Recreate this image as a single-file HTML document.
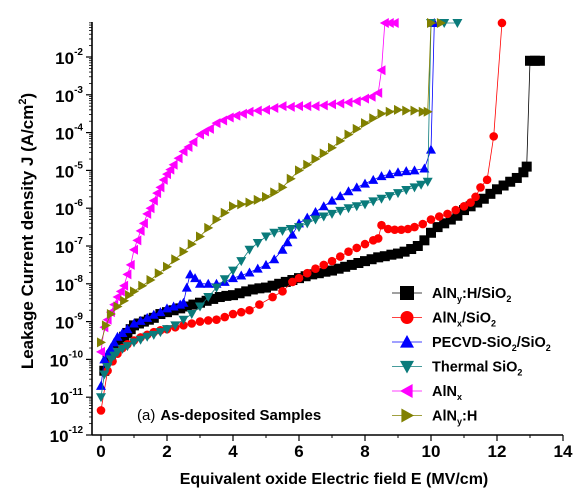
<!DOCTYPE html>
<html><head><meta charset="utf-8"><style>
body{margin:0;background:#fff;}
svg{display:block;font-family:"Liberation Sans",Arial,sans-serif;}
</style></head><body>
<svg id="chart" width="581" height="491" viewBox="0 0 581 491" xmlns="http://www.w3.org/2000/svg">
<g id="plot"></g>
<g id="axes"></g>
<text transform="translate(33,231) rotate(-90)" text-anchor="middle" font-size="17" font-weight="bold">Leakage Current density J (A/cm<tspan font-size="11" dy="-7">2</tspan><tspan dy="7">)</tspan></text>
<text x="334" y="484" text-anchor="middle" font-size="16" font-weight="bold">Equivalent oxide Electric field E (MV/cm)</text>
<text x="137" y="420" font-size="15"><tspan>(a)</tspan><tspan font-weight="bold" dx="5">As-deposited Samples</tspan></text>
<g id="legend"></g>
</svg>
<script>
const xTicks=[0,2,4,6,8,10,12,14];
const yTickExps=[-12,-11,-10,-9,-8,-7,-6,-5,-4,-3,-2];
const seriesNames=["AlNy:H/SiO2","AlNx/SiO2","PECVD-SiO2/SiO2","Thermal SiO2","AlNx","AlNy:H"];
const blackX=[0.1,0.2,0.3,0.4,0.5,0.6,0.7,0.8,0.9,1,1.15,1.3,1.45,1.6,1.8,2,2.2,2.4,2.6,2.8,3,3.2,3.4,3.6,3.8,4,4.2,4.4,4.6,4.8,5,5.2,5.4,5.6,5.8,6,6.2,6.4,6.6,6.8,7,7.2,7.4,7.6,7.8,8,8.2,8.4,8.6,8.8,9,9.2,9.4,9.6,9.8,10,10.2,10.4,10.6,10.8,11,11.2,11.4,11.6,11.8,12,12.2,12.4,12.6,12.8,12.9,13,13.15,13.3];
const blackY=[-10.3,-10,-9.9,-9.8,-9.65,-9.5,-9.4,-9.3,-9.2,-9.1,-9.05,-9,-8.95,-8.9,-8.8,-8.75,-8.7,-8.65,-8.6,-8.55,-8.5,-8.45,-8.4,-8.35,-8.32,-8.3,-8.25,-8.2,-8.15,-8.12,-8.1,-8.05,-8,-7.95,-7.9,-7.85,-7.8,-7.75,-7.72,-7.68,-7.65,-7.6,-7.55,-7.5,-7.45,-7.4,-7.35,-7.3,-7.27,-7.23,-7.2,-7.15,-7.08,-7,-6.85,-6.65,-6.5,-6.4,-6.3,-6.2,-6.05,-5.95,-5.85,-5.75,-5.62,-5.5,-5.4,-5.3,-5.2,-5.05,-4.9,-2.1,-2.1,-2.1];
const redX=[0,0.2,0.35,0.5,0.65,0.8,1,1.2,1.4,1.6,1.8,2,2.25,2.5,2.75,3,3.25,3.5,3.75,4,4.25,4.5,4.8,5.2,5.5,5.8,6,6.25,6.5,6.75,7,7.25,7.5,7.75,8,8.25,8.4,8.5,8.7,8.9,9.1,9.3,9.5,9.75,10,10.25,10.5,10.75,11,11.2,11.35,11.5,11.7,11.9,12.15];
const redY=[-11.35,-10.3,-10.05,-9.85,-9.7,-9.6,-9.5,-9.42,-9.35,-9.28,-9.23,-9.2,-9.15,-9.1,-9.05,-9,-8.97,-8.95,-8.88,-8.8,-8.75,-8.7,-8.55,-8.35,-8.2,-7.95,-7.85,-7.72,-7.6,-7.5,-7.4,-7.28,-7.15,-7.05,-6.95,-6.85,-6.8,-6.45,-6.55,-6.57,-6.57,-6.55,-6.5,-6.42,-6.3,-6.22,-6.15,-6.05,-5.95,-5.85,-5.7,-5.45,-5.25,-4.1,-1.1];
const blueX=[0,0.1,0.2,0.3,0.4,0.5,0.65,0.8,1,1.2,1.4,1.6,1.8,2,2.2,2.4,2.5,2.6,2.7,2.85,3,3.25,3.5,3.75,4,4.25,4.5,4.75,5,5.25,5.5,5.65,5.8,6,6.25,6.5,6.75,7,7.25,7.5,7.75,8,8.25,8.5,8.75,9,9.25,9.5,9.8,10,10.1];
const blueY=[-10.7,-10,-9.85,-9.7,-9.55,-9.4,-9.3,-9.2,-9.05,-8.98,-8.9,-8.82,-8.75,-8.65,-8.6,-8.55,-8.5,-8.1,-7.75,-7.85,-8,-8,-8,-7.95,-7.85,-7.78,-7.7,-7.6,-7.5,-7.35,-7.1,-6.9,-6.7,-6.4,-6.25,-6.1,-5.95,-5.8,-5.68,-5.55,-5.45,-5.35,-5.25,-5.15,-5.1,-5.05,-5.02,-5,-4.95,-4.45,-1.1];
const tealX=[0,0.1,0.2,0.3,0.4,0.5,0.65,0.8,1,1.2,1.4,1.6,1.8,2,2.25,2.5,2.75,3,3.25,3.5,3.75,4,4.25,4.5,4.75,5,5.25,5.5,5.75,6,6.25,6.5,6.75,7,7.25,7.5,7.75,8,8.25,8.5,8.75,9,9.25,9.5,9.7,9.9,10,10.4,10.8];
const tealY=[-11,-10.4,-10.2,-10,-9.9,-9.8,-9.72,-9.65,-9.55,-9.48,-9.4,-9.35,-9.28,-9.2,-9.1,-8.95,-8.8,-8.6,-8.35,-8.1,-7.88,-7.65,-7.4,-7.1,-6.92,-6.75,-6.65,-6.6,-6.55,-6.5,-6.4,-6.3,-6.22,-6.15,-6.07,-6,-5.95,-5.9,-5.82,-5.75,-5.68,-5.6,-5.52,-5.45,-5.38,-5.3,-1.1,-1.1,-1.1];
const magX=[0,0.1,0.2,0.3,0.4,0.5,0.6,0.7,0.8,0.9,1,1.1,1.2,1.3,1.4,1.5,1.6,1.7,1.8,1.9,2,2.1,2.2,2.35,2.5,2.65,2.8,3,3.15,3.3,3.5,3.7,3.9,4.1,4.3,4.5,4.75,5,5.25,5.5,5.75,6,6.25,6.5,6.75,7,7.25,7.5,7.75,8,8.2,8.4,8.5,8.6,8.75,8.9];
const magY=[-9.8,-9.15,-8.95,-8.75,-8.55,-8.35,-8.2,-8.05,-7.75,-7.5,-7.1,-6.85,-6.6,-6.4,-6.15,-6,-5.8,-5.6,-5.45,-5.25,-5.1,-4.98,-4.85,-4.68,-4.5,-4.38,-4.25,-4.05,-3.97,-3.9,-3.75,-3.68,-3.6,-3.55,-3.5,-3.45,-3.42,-3.4,-3.35,-3.3,-3.32,-3.3,-3.3,-3.3,-3.28,-3.25,-3.23,-3.2,-3.17,-3.1,-3.05,-2.95,-2.35,-1.1,-1.1,-1.1];
const oliveX=[0,0.15,0.3,0.5,0.7,0.85,1,1.25,1.5,1.75,2,2.25,2.5,2.75,3,3.25,3.5,3.75,4,4.25,4.5,4.75,5,5.25,5.5,5.75,6,6.25,6.5,6.75,7,7.25,7.5,7.75,8,8.25,8.5,8.75,9,9.25,9.5,9.75,9.9,10,10.3];
const oliveY=[-9.55,-9.1,-8.8,-8.6,-8.45,-8.3,-8.2,-8.05,-7.9,-7.72,-7.55,-7.35,-7.15,-6.95,-6.75,-6.52,-6.3,-6.12,-5.95,-5.9,-5.85,-5.78,-5.7,-5.58,-5.45,-5.22,-5,-4.85,-4.7,-4.55,-4.4,-4.22,-4.05,-3.9,-3.75,-3.62,-3.5,-3.45,-3.4,-3.42,-3.42,-3.45,-3.45,-1.1,-1.1];

const NS="http://www.w3.org/2000/svg";
const X0=101,X1=563,Y0=435,Y1=57,LEFT=92,TOP=22,BOTTOM=435;
function sx(v){return X0+v*(X1-X0)/14;}
function sy(l){return Y0-(l+12)*(Y0-Y1)/10;}
function mk(tag,attrs,parent){const e=document.createElementNS(NS,tag);for(const k in attrs)e.setAttribute(k,attrs[k]);parent.appendChild(e);return e;}
const axes=document.getElementById('axes'),plot=document.getElementById('plot'),legend=document.getElementById('legend');

function marker(shape,x,y,color,parent,s){
  let e;
  if(shape==='square') e=mk('rect',{x:x-s,y:y-s,width:2*s,height:2*s,fill:color},parent);
  else if(shape==='circle') e=mk('circle',{cx:x,cy:y,r:s,fill:color},parent);
  else if(shape==='up') e=mk('polygon',{points:`${x},${y-s} ${x-s},${y+s*0.8} ${x+s},${y+s*0.8}`,fill:color},parent);
  else if(shape==='down') e=mk('polygon',{points:`${x},${y+s} ${x-s},${y-s*0.8} ${x+s},${y-s*0.8}`,fill:color},parent);
  else if(shape==='left') e=mk('polygon',{points:`${x-s},${y} ${x+s*0.8},${y-s} ${x+s*0.8},${y+s}`,fill:color},parent);
  else e=mk('polygon',{points:`${x+s},${y} ${x-s*0.8},${y-s} ${x-s*0.8},${y+s}`,fill:color},parent);
  return e;
}
const series=[
 {xs:blackX,ys:blackY,c:"#000",shape:"square",key:"black"},
 {xs:redX,ys:redY,c:"#f00",shape:"circle",key:"red"},
 {xs:blueX,ys:blueY,c:"#00f",shape:"up",key:"blue"},
 {xs:tealX,ys:tealY,c:"#0a7b7b",shape:"down",key:"teal"},
 {xs:magX,ys:magY,c:"#ff00ff",shape:"left",key:"magenta"},
 {xs:oliveX,ys:oliveY,c:"#808000",shape:"right",key:"olive"}
];
series.forEach((s,i)=>{
  const g=mk('g',{},plot);
  
  
  const pts=s.xs.map((x,j)=>sx(x)+','+sy(s.ys[j])).join(' ');
  mk('polyline',{points:pts,fill:'none',stroke:s.c,'stroke-width':0.8},g);
  s.xs.forEach((x,j)=>{
    const m=marker(s.shape,sx(x),sy(s.ys[j]),s.c,g,s.shape==='circle'?4.3:5);
    
    
  });
});
mk('line',{x1:LEFT,y1:TOP,x2:LEFT,y2:BOTTOM,stroke:'#000','stroke-width':1.6},axes);
mk('line',{x1:LEFT,y1:BOTTOM,x2:X1,y2:BOTTOM,stroke:'#000','stroke-width':1.6},axes);
xTicks.forEach(t=>{
  const x=sx(t);
  mk('line',{x1:x,y1:BOTTOM,x2:x,y2:BOTTOM+6,stroke:'#000','stroke-width':1.2},axes);
  if(t<14) mk('line',{x1:sx(t+1),y1:BOTTOM,x2:sx(t+1),y2:BOTTOM+3,stroke:'#000'},axes);
  const tx=mk('text',{x:x,y:BOTTOM+22,'text-anchor':'middle','font-size':17,'font-weight':'bold'},axes);
  tx.textContent=t;
  
  
});
for(let e=-12;e<=-1;e++){
  for(let k=1;k<10;k++){
    const y=sy(e+Math.log10(k));
    if(y<TOP) continue;
    mk('line',{x1:LEFT-(k===1?6:3),y1:y,x2:LEFT,y2:y,stroke:'#000','stroke-width':k===1?1.2:0.8},axes);
  }
}
yTickExps.forEach(e=>{
  const y=sy(e);
  const tx=mk('text',{x:LEFT-9,y:y+7,'text-anchor':'end','font-size':17,'font-weight':'bold'},axes);
  tx.innerHTML='10<tspan font-size="10" dy="-9">'+e+'</tspan>';
  
  
});
const legLabels=['AlN<tspan font-size="9" dy="4">y</tspan><tspan dy="-4">:H/SiO</tspan><tspan font-size="9" dy="4">2</tspan>',
 'AlN<tspan font-size="9" dy="4">x</tspan><tspan dy="-4">/SiO</tspan><tspan font-size="9" dy="4">2</tspan>',
 'PECVD-SiO<tspan font-size="9" dy="4">2</tspan><tspan dy="-4">/SiO</tspan><tspan font-size="9" dy="4">2</tspan>',
 'Thermal SiO<tspan font-size="9" dy="4">2</tspan>',
 'AlN<tspan font-size="9" dy="4">x</tspan>',
 'AlN<tspan font-size="9" dy="4">y</tspan><tspan dy="-4">:H</tspan>'];
series.forEach((s,i)=>{
  const y=293+i*24.5;
  const g=mk('g',{},legend);
  
  
  mk('line',{x1:392,y1:y,x2:422,y2:y,stroke:s.c,'stroke-width':0.8},g);
  marker(s.shape,407,y,s.c,g,s.shape==='circle'?6.5:7);
  const t=mk('text',{x:432,y:y+5,'font-size':14.5,'font-weight':'bold'},g);
  t.innerHTML=legLabels[i];
});
</script>
</body></html>
